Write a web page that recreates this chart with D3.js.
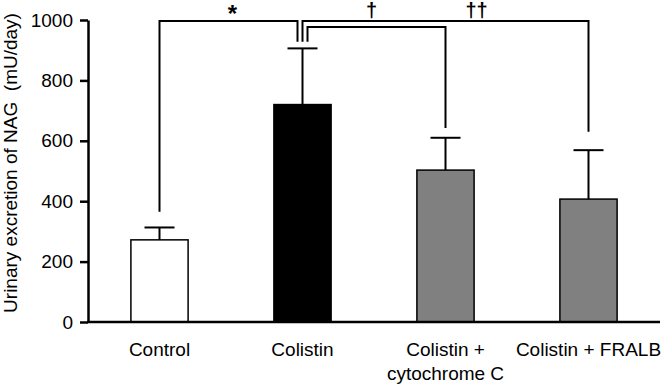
<!DOCTYPE html>
<html>
<head>
<meta charset="utf-8">
<script src="https://cdn.jsdelivr.net/npm/d3@7"></script>
<style>
  html, body { margin:0; padding:0; background:#fff; }
  svg { display:block; font-family:"Liberation Sans", Arial, sans-serif; }
</style>
</head>
<body>
<div id="chart"></div>
<script>
// NAG excretion – bar chart with SD and significance brackets

const categories = ["Control", "Colistin", "Colistin +|cytochrome C", "Colistin + FRALB"];
const means      = [272, 720, 503, 407];
const sds        = [41, 186, 107, 162];
const yTicks     = [0, 200, 400, 600, 800, 1000];

// brackets: group a -> group b, label, level of top line, bottom of each leg (data units)
const brA      = [0, 1, 1];
const brB      = [1, 2, 3];
const brLabel  = ["*", "\u2020", "\u2020\u2020"];
const brLevel  = [997, 977, 997];
const brEndA   = [365, 928, 928];
const brEndB   = [928, 642, 630];

// styling
const fills    = ["#ffffff", "#000000", "#808080", "#808080"];
const legDx    = [[0, -5], [5, 0], [0, 0]];
const labelDx  = [4, -5, 31];
const labelY   = [22, 17, 17];
const labelFs  = [24, 20, 20];

const W = 666, H = 386;
const margin = {top:20, right:6, bottom:64, left:88};

const svg = d3.select("#chart").append("svg")
  .attr("width", W).attr("height", H);

const x = d3.scaleBand()
  .domain(d3.range(categories.length))
  .range([margin.left, W - margin.right])
  .paddingInner(0.6).paddingOuter(0.3);

const y = d3.scaleLinear()
  .domain([0, 1000])
  .range([H - margin.bottom, margin.top]);

const cx = i => x(i) + x.bandwidth() / 2;

// bars
svg.append("g").selectAll("rect")
  .data(means).join("rect")
    .attr("x", (d, i) => x(i))
    .attr("y", d => y(d))
    .attr("width", x.bandwidth())
    .attr("height", d => y(0) - y(d))
    .attr("fill", (d, i) => fills[i])
    .attr("stroke", "#000")
    .attr("stroke-width", 1.5);

// error bars (upper only)
const eb = svg.append("g").attr("stroke", "#000").attr("stroke-width", 2);
means.forEach((m, i) => {
  eb.append("line").attr("x1", cx(i)).attr("x2", cx(i)).attr("y1", y(m)).attr("y2", y(m + sds[i]));
  eb.append("line").attr("x1", cx(i) - 15).attr("x2", cx(i) + 15)
    .attr("y1", y(m + sds[i])).attr("y2", y(m + sds[i]));
});

// significance brackets
const bg = svg.append("g");
brA.forEach((a, k) => {
  const b = brB[k];
  const xa = cx(a) + legDx[k][0], xb = cx(b) + legDx[k][1];
  bg.append("path")
    .attr("d", `M${xa},${y(brEndA[k])}V${y(brLevel[k])}H${xb}V${y(brEndB[k])}`)
    .attr("fill", "none").attr("stroke", "#000").attr("stroke-width", 2);
  bg.append("text")
    .attr("x", (xa + xb) / 2 + labelDx[k])
    .attr("y", labelY[k])
    .attr("text-anchor", "middle")
    .attr("font-size", labelFs[k])
    .attr("font-weight", "bold")
    .text(brLabel[k]);
});

// y axis
svg.append("g")
  .attr("transform", `translate(${margin.left},0)`)
  .call(d3.axisLeft(y).tickValues(yTicks).tickFormat(d3.format("d"))
    .tickSize(8).tickPadding(7).tickSizeOuter(0))
  .call(g => g.selectAll("line, path").attr("stroke", "#000").attr("stroke-width", 2.5))
  .call(g => g.selectAll("text").attr("font-size", 19).attr("fill", "#000")
    .attr("font-family", "Liberation Sans, Arial, sans-serif"));

// x axis line
svg.append("line")
  .attr("x1", margin.left - 1).attr("x2", W - margin.right)
  .attr("y1", y(0)).attr("y2", y(0))
  .attr("stroke", "#000").attr("stroke-width", 2.5);

// x labels
const xl = svg.append("g").attr("font-size", 19).attr("text-anchor", "middle");
categories.forEach((c, i) => {
  const t = xl.append("text").attr("x", cx(i)).attr("y", y(0) + 34);
  c.split("|").forEach((s, j) => {
    t.append("tspan").attr("x", cx(i)).attr("dy", j ? 24 : 0).text(s);
  });
});

// y label
svg.append("text")
  .attr("transform", `translate(17,${(y(0) + 4) / 2}) rotate(-90)`)
  .attr("text-anchor", "middle")
  .attr("font-size", 19)
  .attr("xml:space", "preserve")
  .style("white-space", "pre")
  .text("Urinary excretion of NAG  (mU/day)");
</script>
</body>
</html>
